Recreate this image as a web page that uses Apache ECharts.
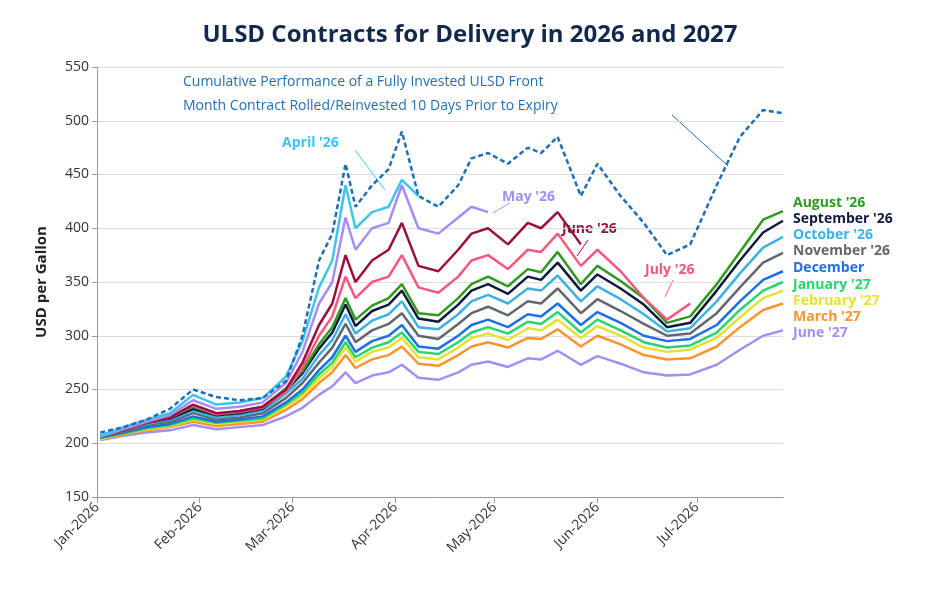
<!DOCTYPE html>
<html>
<head>
<meta charset="utf-8">
<script src="https://cdn.jsdelivr.net/npm/echarts@6/dist/echarts.min.js"></script>
<style>html,body{margin:0;padding:0;background:#fff}#chart{width:940px;height:600px}</style>
</head>
<body>
<div id="chart"></div>
<script>
const dates = ['2026-01-02','2026-01-09','2026-01-16','2026-01-23','2026-01-30','2026-02-06','2026-02-13','2026-02-20','2026-02-27',
  '2026-03-04','2026-03-09','2026-03-13','2026-03-17','2026-03-20','2026-03-25','2026-03-30','2026-04-03','2026-04-08',
  '2026-04-14','2026-04-20','2026-04-24','2026-04-29','2026-05-05','2026-05-11','2026-05-15','2026-05-20','2026-05-27',
  '2026-06-01','2026-06-08','2026-06-15','2026-06-22','2026-06-29','2026-07-07','2026-07-14','2026-07-21','2026-07-27'];

const frontMonth = [210,215,222,232,250,243,240,242,258,300,370,395,460,420,440,455,490,430,420,440,465,470,460,475,470,485,430,460,430,405,375,385,440,485,510,507];
const apr26 = [207,215,222,228,245,236,238,242,262,295,345,370,440,400,415,420,445,430];
const may26 = [206,213,220,226,240,232,234,238,256,285,330,350,410,380,400,405,440,400,395,410,420,415];
const jun26 = [206,212,219,224,236,228,230,234,250,275,310,330,375,350,370,380,405,365,360,380,395,400,385,405,400,415,385];
const jul26 = [206,212,219,224,235,227,229,233,248,270,300,318,355,335,350,355,375,345,340,355,370,375,362,380,378,395,365,380,360,335,315,330];
const aug26 = [207,213,220,224,234,227,230,234,251,267,292,308,335,315,328,335,348,321,319,335,348,355,346,362,359,378,348,365,351,335,312,318,348,378,408,416];
const sep26 = [206,213,219,223,232,226,228,232,249,265,288,303,329,309,323,329,342,316,313,329,342,348,339,355,352,368,342,357,344,329,308,312,342,370,396,407];
const oct26 = [206,212,218,222,230,224,226,230,246,260,282,296,320,302,314,320,332,308,306,320,332,338,330,344,342,356,332,346,334,320,304,307,332,358,382,392];
const nov26 = [206,211,217,220,228,222,224,228,242,256,275,289,311,294,305,311,321,300,297,311,321,327,319,332,330,344,321,334,323,311,300,302,321,345,368,377];
const dec26 = [205,210,215,218,225,220,222,225,238,250,268,280,300,285,295,300,310,290,288,300,310,315,308,320,318,330,310,322,312,300,295,297,310,332,352,360];
const jan27 = [205,209,214,217,223,219,221,223,236,247,264,275,294,280,289,294,303,285,283,294,303,308,302,313,311,322,303,315,305,294,289,291,303,324,342,350];
const feb27 = [204,209,213,216,222,218,220,222,234,244,260,271,289,276,285,289,298,280,278,289,298,302,296,307,305,315,298,309,300,289,285,287,298,317,335,342];
const mar27 = [204,208,212,215,220,216,218,220,231,241,256,266,282,270,278,282,290,274,272,282,290,294,289,298,297,306,290,300,292,282,278,279,290,308,324,330];
const jun27 = [203,207,210,212,217,213,215,217,225,233,245,253,266,256,263,266,273,261,259,266,273,276,271,279,278,286,273,281,274,266,263,264,273,287,300,305];

const monthTicks = ['2026-01-01','2026-02-01','2026-03-01','2026-04-01','2026-05-01','2026-06-01','2026-07-01'];
const monthNames = ['Jan','Feb','Mar','Apr','May','Jun','Jul','Aug','Sep','Oct','Nov','Dec'];

const contracts = [
  {name:"April '26", data:apr26, color:'#3fc3f2'},
  {name:"May '26", data:may26, color:'#a48ef5'},
  {name:"June '26", data:jun26, color:'#9c0f3c'},
  {name:"July '26", data:jul26, color:'#f4587c'},
  {name:"August '26", data:aug26, color:'#2f9a1f'},
  {name:"September '26", data:sep26, color:'#0e1b3d'},
  {name:"October '26", data:oct26, color:'#3cb1e3'},
  {name:"November '26", data:nov26, color:'#62666e'},
  {name:"December", data:dec26, color:'#1d6fe3'},
  {name:"January '27", data:jan27, color:'#25d66c'},
  {name:"February '27", data:feb27, color:'#e6e032'},
  {name:"March '27", data:mar27, color:'#f89430'},
  {name:"June '27", data:jun27, color:'#a58df6'}
];

const ts = s => Date.parse(s + 'T00:00:00Z');
const pair = arr => arr.map((v,i)=>[ts(dates[i]),v]);
const series = contracts.slice().reverse().map(c=>({
  name:c.name, type:'line', showSymbol:false, data:pair(c.data),
  lineStyle:{width:2.5,color:c.color}, itemStyle:{color:c.color}
}));
series.push({name:'Front Month', type:'line', showSymbol:false, data:pair(frontMonth),
  lineStyle:{width:2.5,type:[5,3],color:'#1e6fb5'}});

const endLabels = contracts.slice(4);
const labelY = [205,221,237,253,270,287,303,319,335];
const txt = (x,y,text,color) => ({type:'text',left:x,top:y,style:{text,fill:color,font:'bold 14px "Open Sans", sans-serif'}});
const graphics = endLabels.map((c,i)=>txt(793,labelY[i]-9,c.name,c.color));
graphics.push(
  {type:'text',left:183,top:70,style:{text:'Cumulative Performance of a Fully Invested ULSD Front\nMonth Contract Rolled/Reinvested 10 Days Prior to Expiry',fill:'#1e6fb5',font:'14px "Open Sans", sans-serif',lineHeight:24}},
  txt(282,136,"April '26",'#3fc3f2'),
  txt(502,190,"May '26",'#a48ef5'),
  txt(562,222,"June '26",'#9c0f3c'),
  txt(645,263,"July '26",'#f4587c'),
  {type:'line',shape:{x1:672,y1:115,x2:728,y2:166},style:{stroke:'#1e6fb5',lineWidth:1}},
  {type:'line',shape:{x1:355,y1:150,x2:385,y2:190},style:{stroke:'#3fc3f2',lineWidth:1}},
  {type:'line',shape:{x1:510,y1:203,x2:493,y2:213},style:{stroke:'#a48ef5',lineWidth:1}},
  {type:'line',shape:{x1:588,y1:240,x2:577,y2:256},style:{stroke:'#9c0f3c',lineWidth:1}},
  {type:'line',shape:{x1:673,y1:280,x2:665,y2:297},style:{stroke:'#f4587c',lineWidth:1}}
);

const tickVals = monthTicks.map(ts);
const option = {
  animation:false,
  title:{text:'ULSD Contracts for Delivery in 2026 and 2027',left:'center',top:18,
    textStyle:{fontSize:24,fontWeight:'bold',color:'#13294b',fontFamily:'"Open Sans", sans-serif'}},
  grid:{left:97,right:157,top:67,bottom:103},
  xAxis:{type:'value',min:ts('2026-01-01'),max:ts('2026-07-27'),
    axisLine:{lineStyle:{color:'#999'}},
    axisTick:{show:true,customValues:tickVals,length:6,lineStyle:{color:'#999'}},
    axisLabel:{customValues:tickVals,rotate:45,fontSize:14,color:'#333',fontFamily:'"Open Sans", sans-serif',
      formatter:v=>{const d=new Date(v);return monthNames[d.getUTCMonth()]+'-'+d.getUTCFullYear();}},
    splitLine:{show:false}},
  yAxis:{type:'value',min:150,max:550,interval:50,name:'USD per Gallon',nameLocation:'middle',nameGap:48,
    nameTextStyle:{fontSize:15,fontWeight:'bold',color:'#222',fontFamily:'"Open Sans", sans-serif'},
    axisLabel:{fontSize:14,color:'#333',fontFamily:'"Open Sans", sans-serif'},
    axisLine:{show:true,lineStyle:{color:'#999'}},
    splitLine:{lineStyle:{color:'#ddd'}}},
  series:series,
  graphic:graphics
};
echarts.init(document.getElementById('chart')).setOption(option);
</script>
</body>
</html>
